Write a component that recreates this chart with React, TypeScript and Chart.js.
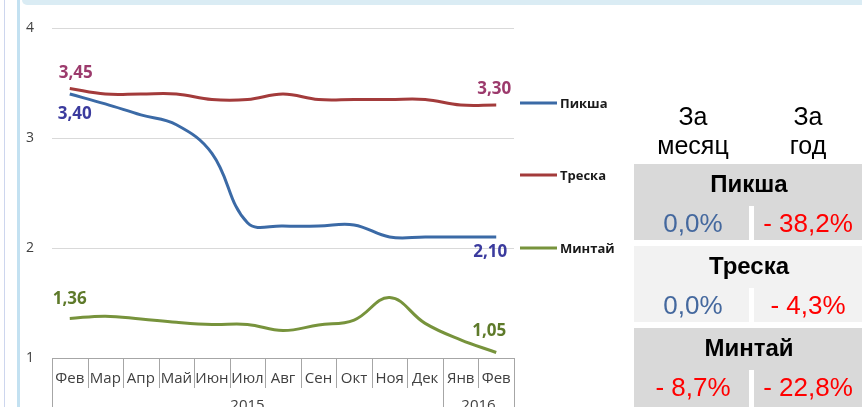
import React, { useEffect, useRef } from 'react';
import { Chart, registerables } from 'chart.js';

Chart.register(...registerables);

// ---------- data ----------
const months = ['Фев', 'Мар', 'Апр', 'Май', 'Июн', 'Июл', 'Авг', 'Сен', 'Окт', 'Ноя', 'Дек', 'Янв', 'Фев'];
const yearLabels = ['2015', '2016'];
const yearSpans = [11, 2];

const seriesNames = ['Пикша', 'Треска', 'Минтай'];
const haddock = [3.40, 3.31, 3.21, 3.12, 2.86, 2.23, 2.20, 2.20, 2.21, 2.10, 2.10, 2.10, 2.10];
const cod = [3.45, 3.40, 3.40, 3.40, 3.35, 3.35, 3.40, 3.35, 3.35, 3.35, 3.35, 3.30, 3.30];
const pollock = [1.36, 1.38, 1.355, 1.325, 1.305, 1.305, 1.25, 1.30, 1.345, 1.55, 1.315, 1.165, 1.05];

const yMin = 1;
const yMax = 4;
const yStep = 1;

const headerMonth = ['За', 'месяц'];
const headerYear = ['За', 'год'];
const monthChange = ['0,0%', '0,0%', '- 8,7%'];
const yearChange = ['- 38,2%', '- 4,3%', '- 22,8%'];

// ---------- styles ----------
const lineColors = ['#3b6aa6', '#a33b3b', '#77933c'];
const labelColors = ['#3b3b9e', '#9c3a6c', '#5e7a2a'];
// [first dx, first dy, last dx, last dy] label-centre offsets from the point
const labelOffsets = [
  [5, 20, -6, 15],
  [6, -15, -2, -16],
  [0, -19, -7, -21],
];
const legendY = [103, 175, 248];

const fmt = (v: number) => v.toFixed(2).replace('.', ',');

const decorPlugin = {
  id: 'decor',
  afterDraw(chart: any) {
    const ctx = chart.ctx;
    const x = chart.scales.x;
    const n = months.length;
    const bounds: number[] = [];
    for (let i = 0; i <= n; i++) {
      if (i === 0) bounds.push(x.left);
      else if (i === n) bounds.push(x.right);
      else bounds.push((x.getPixelForValue(i - 1) + x.getPixelForValue(i)) / 2);
    }
    const top = x.top;
    ctx.save();
    ctx.strokeStyle = '#a6a6a6';
    ctx.lineWidth = 1;
    const yearBounds = new Set<number>([0, n]);
    let acc = 0;
    yearSpans.forEach((s) => { acc += s; yearBounds.add(acc); });
    bounds.forEach((bx, i) => {
      const px = Math.round(bx) + 0.5;
      ctx.beginPath();
      ctx.moveTo(px, top);
      ctx.lineTo(px, yearBounds.has(i) ? chart.height : top + 30);
      ctx.stroke();
    });
    // month labels
    ctx.fillStyle = '#404040';
    ctx.font = '15px "Open Sans"';
    ctx.textAlign = 'center';
    ctx.textBaseline = 'middle';
    months.forEach((m, i) => {
      ctx.fillText(m, x.getPixelForValue(i), top + 21);
    });
    // year labels
    let start = 0;
    yearLabels.forEach((yl, k) => {
      const end = start + yearSpans[k];
      const cx = (bounds[start] + bounds[end]) / 2;
      ctx.fillText(yl, cx, top + 48);
      start = end;
    });

    // data labels (first & last)
    ctx.font = 'bold 17px "Open Sans"';
    chart.data.datasets.forEach((ds: any, di: number) => {
      const meta = chart.getDatasetMeta(di);
      const pts = meta.data;
      const f = pts[0];
      const l = pts[pts.length - 1];
      const o = labelOffsets[di];
      ctx.fillStyle = labelColors[di];
      ctx.fillText(fmt(ds.data[0]), f.x + o[0], f.y + o[1]);
      ctx.fillText(fmt(ds.data[ds.data.length - 1]), l.x + o[2], l.y + o[3]);
    });

    // legend
    ctx.textAlign = 'left';
    ctx.font = 'bold 13px "Open Sans"';
    chart.data.datasets.forEach((ds: any, di: number) => {
      const y = legendY[di];
      ctx.strokeStyle = ds.borderColor;
      ctx.lineWidth = 3;
      ctx.beginPath();
      ctx.moveTo(520, y);
      ctx.lineTo(557, y);
      ctx.stroke();
      ctx.fillStyle = '#1a1a1a';
      ctx.fillText(ds.label, 560, y + 1);
    });
    ctx.restore();
  },
};

function ChartBox() {
  const ref = useRef<HTMLCanvasElement>(null);
  useEffect(() => {
    const canvas = ref.current!;
    const H = 407;
    const chart = new Chart(canvas, {
      type: 'line',
      data: {
        labels: months,
        datasets: [haddock, cod, pollock].map((d, i) => ({
          label: seriesNames[i],
          data: d,
          borderColor: lineColors[i],
          backgroundColor: lineColors[i],
          borderWidth: 3,
          pointRadius: 0,
          tension: 0.4,
          fill: false,
        })),
      },
      options: {
        animation: false,
        responsive: false,
        maintainAspectRatio: false,
        layout: { padding: { left: 0, right: 620 - 514, top: 28, bottom: 0 } },
        plugins: { legend: { display: false }, tooltip: { enabled: false } },
        scales: {
          x: {
            type: 'category',
            offset: true,
            grid: { display: false },
            border: { display: true, color: '#a6a6a6', width: 1 },
            ticks: { display: false },
            afterFit: (s: any) => { s.height = H - 358; },
          },
          y: {
            min: yMin,
            max: yMax,
            ticks: {
              stepSize: yStep,
              padding: 18,
              color: '#404040',
              font: { family: '"Open Sans"', size: 14 },
              callback: (v: any) => String(v),
            },
            grid: { color: '#d9d9d9', lineWidth: 1, drawTicks: false },
            border: { display: false },
            afterFit: (s: any) => { s.width = 52; },
          },
        },
      },
      plugins: [decorPlugin],
    });
    return () => chart.destroy();
  }, []);
  return <canvas ref={ref} width={620} height={407} style={{ position: 'absolute', left: 0, top: 0 }} />;
}

const cellFont = '"Liberation Sans", Arial, sans-serif';

function Table() {
  const rowTops = [164, 246, 328];
  const rowBottoms = [240, 322, 407];
  const rowBgs = ['#d9d9d9', '#f2f2f2', '#d9d9d9'];
  const col1 = 693;
  const col2 = 808;
  const centered = (cx: number, cy: number, text: string, style: any, key?: any) => (
    <div key={key} style={{ position: 'absolute', left: cx - 80, width: 160, top: cy - 16, height: 32, lineHeight: '32px', textAlign: 'center', fontFamily: cellFont, whiteSpace: 'nowrap', ...style }}>{text}</div>
  );
  const isNeg = (s: string) => s.trim().startsWith('-');
  return (
    <>
      {centered(col1, 116, headerMonth[0], { fontSize: 25, color: '#000' })}
      {centered(col1, 145, headerMonth[1], { fontSize: 25, color: '#000' })}
      {centered(col2, 116, headerYear[0], { fontSize: 25, color: '#000' })}
      {centered(col2, 145, headerYear[1], { fontSize: 25, color: '#000' })}
      {seriesNames.map((name, i) => (
        <React.Fragment key={i}>
          <div style={{ position: 'absolute', left: 634, width: 228, top: rowTops[i], height: rowBottoms[i] - rowTops[i], background: rowBgs[i] }} />
          <div style={{ position: 'absolute', left: 749, width: 5, top: rowTops[i] + 42, height: rowBottoms[i] - rowTops[i] - 42, background: '#ffffff' }} />
          {centered(749, rowTops[i] + 20, name, { fontSize: 24, fontWeight: 'bold', color: '#000' })}
          {centered(col1, rowTops[i] + 59, monthChange[i], { fontSize: 26, color: isNeg(monthChange[i]) ? '#ff0000' : '#44689e' })}
          {centered(col2, rowTops[i] + 59, yearChange[i], { fontSize: 26, color: isNeg(yearChange[i]) ? '#ff0000' : '#44689e' })}
        </React.Fragment>
      ))}
    </>
  );
}

export default function App() {
  return (
    <div style={{ position: 'absolute', left: 0, top: 0, width: 862, height: 407, overflow: 'hidden', background: '#ffffff' }}>
      <div style={{ position: 'absolute', left: 4, top: 0, width: 1, height: 407, background: '#cdd6ee' }} />
      <div style={{ position: 'absolute', left: 17, top: 0, width: 3, height: 407, background: '#c3e1f1' }} />
      <div style={{ position: 'absolute', left: 22, top: 0, width: 840, height: 5, background: '#daecf4', borderBottomLeftRadius: 6 }} />
      <ChartBox />
      <Table />
    </div>
  );
}
